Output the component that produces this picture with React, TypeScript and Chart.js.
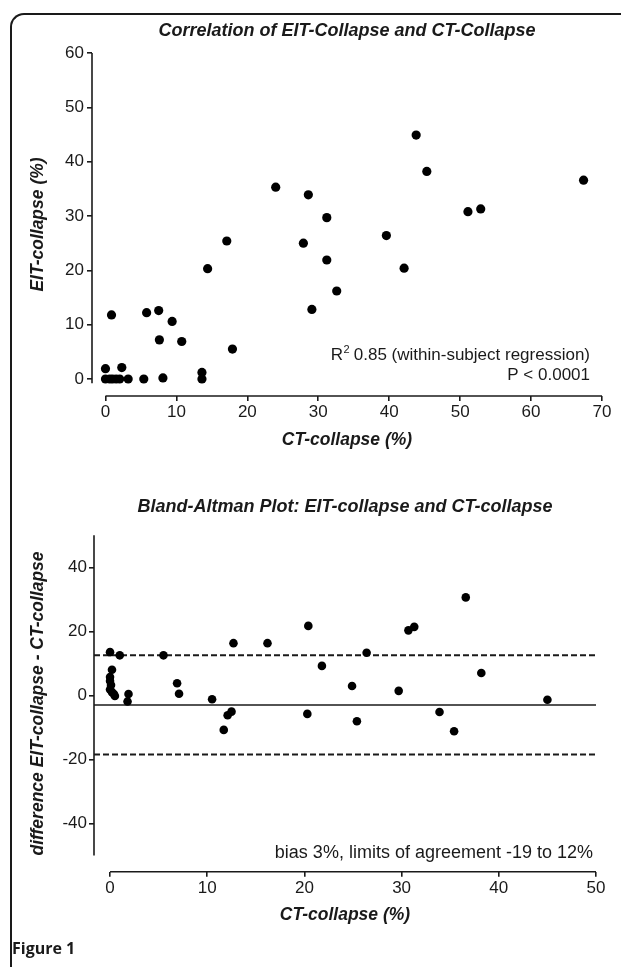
import React, { useEffect, useRef } from "react";
import { Chart, registerables } from "chart.js";

Chart.register(...registerables);

// ---- Data: top chart (correlation) ----
const ctCollapse = [0, 0, 0.6, 1.0, 1.5, 2.0, 2.3, 3.2, 0.85, 5.4, 5.8, 7.5, 7.6, 8.1, 9.4, 10.75, 13.6, 13.6, 14.4, 17.1, 17.9, 24.0, 27.9, 28.6, 29.1, 31.2, 31.2, 32.6, 39.6, 42.1, 43.8, 45.3, 51.1, 52.9, 67.4];
const eitCollapse = [1.9, 0, 0, 0, 0, 0, 2.1, 0, 11.8, 0, 12.2, 12.6, 7.2, 0.2, 10.6, 6.9, 1.2, 0, 20.3, 25.4, 5.5, 35.3, 25.0, 33.9, 12.8, 29.7, 21.9, 16.2, 26.4, 20.4, 44.9, 38.2, 30.8, 31.3, 36.6];
const topXTicks = [0, 10, 20, 30, 40, 50, 60, 70];
const topYTicks = [0, 10, 20, 30, 40, 50, 60];

// ---- Data: bottom chart (Bland-Altman) ----
const baCT = [0, 1.0, 0.2, 0.0, 0.0, 0.1, 0.0, 0.2, 0.4, 0.5, 1.9, 1.8, 5.5, 6.9, 7.1, 10.5, 12.7, 12.1, 12.5, 11.7, 16.2, 20.4, 20.3, 21.8, 26.4, 24.9, 25.4, 29.7, 30.7, 31.3, 36.6, 38.2, 33.9, 35.4, 45.0];
const baDiff = [13.5, 12.5, 8.0, 5.7, 4.5, 3.2, 1.8, 1.0, 0.4, -0.2, 0.4, -1.9, 12.5, 3.8, 0.5, -1.2, 16.3, -6.2, -5.1, -10.8, 16.3, 21.7, -5.8, 9.2, 13.3, 2.9, -8.1, 1.4, 20.3, 21.4, 30.6, 7.0, -5.2, -11.2, -1.4];
const bottomXTicks = [0, 10, 20, 30, 40, 50];
const bottomYTicks = [-40, -20, 0, 20, 40];
const biasValue = -3;
const upperLimit = 12.5;
const lowerLimit = -18.5;

const FAMILY = "'Liberation Sans', Arial, Helvetica, sans-serif";
const INK = "#1a1a1a";

const pts = (xs: number[], ys: number[]) => xs.map((x, i) => ({ x, y: ys[i] }));

const decorPlugin = {
  id: "decor",
  beforeDatasetsDraw(chart: any, _args: any, opts: any) {
    const { ctx, chartArea, scales } = chart;
    const xs = scales.x;
    const ys = scales.y;
    ctx.save();
    ctx.strokeStyle = INK;
    ctx.lineWidth = 1.6;
    ctx.lineCap = "butt";
    ctx.beginPath();
    ctx.moveTo(chartArea.left, ys.getPixelForValue(opts.yFrom));
    ctx.lineTo(chartArea.left, ys.getPixelForValue(opts.yTo));
    ctx.stroke();
    ctx.beginPath();
    ctx.moveTo(xs.getPixelForValue(opts.xFrom), chartArea.bottom);
    ctx.lineTo(xs.getPixelForValue(opts.xTo), chartArea.bottom);
    ctx.stroke();
    ctx.restore();
  },
  afterDraw(chart: any, _args: any, opts: any) {
    const { ctx, chartArea } = chart;
    ctx.save();
    ctx.fillStyle = INK;
    ctx.textAlign = "center";
    ctx.textBaseline = "middle";
    ctx.font = `italic bold 18px ${FAMILY}`;
    ctx.fillText(opts.title, (chartArea.left + chartArea.right) / 2, chartArea.top + opts.titleDy);
    (opts.notes || []).forEach((n: any) => {
      ctx.textBaseline = "alphabetic";
      ctx.textAlign = "left";
      const size = n.size;
      ctx.font = `${size}px ${FAMILY}`;
      const mainW = ctx.measureText(n.text).width;
      let supW = 0;
      let preW = 0;
      if (n.pre) {
        preW = ctx.measureText(n.pre).width;
        ctx.font = `${Math.round(size * 0.62)}px ${FAMILY}`;
        supW = ctx.measureText(n.sup).width;
      }
      const total = preW + supW + mainW;
      let x = chartArea.right + n.dx - total;
      const y = chartArea.bottom + n.dy;
      if (n.pre) {
        ctx.font = `${size}px ${FAMILY}`;
        ctx.fillText(n.pre, x, y);
        x += preW;
        ctx.font = `${Math.round(size * 0.62)}px ${FAMILY}`;
        ctx.fillText(n.sup, x + 0.5, y - size * 0.42);
        x += supW;
      }
      ctx.font = `${size}px ${FAMILY}`;
      ctx.fillText(n.text, x, y);
    });
    ctx.restore();
  },
};

const tickGrid = { drawOnChartArea: false, drawTicks: true, tickLength: 5, color: INK, lineWidth: 1.6 };
const tickFont = { family: FAMILY, size: 17 };
const axisTitleFont = { family: FAMILY, size: 17.5, weight: "bold" as const, style: "italic" as const };

function topConfig(): any {
  return {
    type: "scatter",
    data: {
      datasets: [
        {
          data: pts(ctCollapse, eitCollapse),
          backgroundColor: "#000",
          borderWidth: 0,
          pointRadius: 4.6,
          pointHoverRadius: 4.6,
        },
      ],
    },
    options: {
      animation: false,
      responsive: false,
      devicePixelRatio: 1,
      events: [],
      layout: { padding: { top: 53, left: 0, right: 19, bottom: 0 } },
      scales: {
        x: {
          type: "linear",
          min: -1.9,
          max: 70,
          afterBuildTicks: (s: any) => {
            s.ticks = topXTicks.map((v) => ({ value: v }));
          },
          afterFit: (s: any) => {
            s.height = 64;
          },
          grid: tickGrid,
          border: { display: false },
          ticks: { color: INK, font: tickFont, padding: 1, maxRotation: 0, autoSkip: false },
          title: { display: true, text: "CT-collapse (%)", color: INK, font: axisTitleFont, padding: { top: 0, bottom: 9.5 } },
        },
        y: {
          type: "linear",
          min: -3.13,
          max: 60,
          afterBuildTicks: (s: any) => {
            s.ticks = topYTicks.map((v) => ({ value: v }));
          },
          afterFit: (s: any) => {
            s.width = 92;
          },
          grid: tickGrid,
          border: { display: false },
          ticks: { color: INK, font: tickFont, padding: 3, autoSkip: false },
          title: { display: true, text: "EIT-collapse (%)", color: INK, font: axisTitleFont, padding: { top: 27.5, bottom: 0 } },
        },
      },
      plugins: {
        legend: { display: false },
        tooltip: { enabled: false },
        decor: {
          yFrom: 60,
          yTo: -0.8,
          xFrom: 0,
          xTo: 70,
          title: "Correlation of EIT-Collapse and CT-Collapse",
          titleDy: -22,
          notes: [
            { pre: "R", sup: "2", text: " 0.85 (within-subject regression)", size: 17, dx: -12, dy: -36 },
            { text: "P < 0.0001", size: 17, dx: -12, dy: -16 },
          ],
        },
      },
    },
    plugins: [decorPlugin],
  };
}

function bottomConfig(): any {
  const xMin = -1.65;
  const line = (y: number, dash: number[], width: number) => ({
    type: "line",
    data: [
      { x: xMin, y },
      { x: 50, y },
    ],
    borderColor: INK,
    borderWidth: width,
    borderDash: dash,
    pointRadius: 0,
    showLine: true,
    fill: false,
    order: 2,
  });
  return {
    type: "scatter",
    data: {
      datasets: [
        line(upperLimit, [6, 3], 2),
        line(biasValue, [], 1.6),
        line(lowerLimit, [6, 3], 2),
        {
          data: pts(baCT, baDiff),
          backgroundColor: "#000",
          borderWidth: 0,
          pointRadius: 4.3,
          pointHoverRadius: 4.3,
          order: 1,
        },
      ],
    },
    options: {
      animation: false,
      responsive: false,
      devicePixelRatio: 1,
      events: [],
      layout: { padding: { top: 75.3, left: 0, right: 25, bottom: 0 } },
      scales: {
        x: {
          type: "linear",
          min: xMin,
          max: 50,
          afterBuildTicks: (s: any) => {
            s.ticks = bottomXTicks.map((v) => ({ value: v }));
          },
          afterFit: (s: any) => {
            s.height = 95.3;
          },
          grid: tickGrid,
          border: { display: false },
          ticks: { color: INK, font: tickFont, padding: 1, maxRotation: 0, autoSkip: false },
          title: { display: true, text: "CT-collapse (%)", color: INK, font: axisTitleFont, padding: { top: 0, bottom: 41.5 } },
        },
        y: {
          type: "linear",
          min: -55.1,
          max: 50,
          afterBuildTicks: (s: any) => {
            s.ticks = bottomYTicks.map((v) => ({ value: v }));
          },
          afterFit: (s: any) => {
            s.width = 94;
          },
          grid: tickGrid,
          border: { display: false },
          ticks: { color: INK, font: tickFont, padding: 2, autoSkip: false },
          title: {
            display: true,
            text: "difference EIT-collapse - CT-collapse",
            color: INK,
            font: axisTitleFont,
            padding: { top: 27.5, bottom: 0 },
          },
        },
      },
      plugins: {
        legend: { display: false },
        tooltip: { enabled: false },
        decor: {
          yFrom: 50,
          yTo: -50,
          xFrom: 0,
          xTo: 50,
          title: "Bland-Altman Plot: EIT-collapse and CT-collapse",
          titleDy: -28,
          notes: [{ text: "bias 3%, limits of agreement -19 to 12%", size: 18, dx: -3, dy: -14 }],
        },
      },
    },
    plugins: [decorPlugin],
  };
}

export default function App() {
  const topRef = useRef<HTMLCanvasElement>(null);
  const botRef = useRef<HTMLCanvasElement>(null);

  useEffect(() => {
    const c1 = new Chart(topRef.current as HTMLCanvasElement, topConfig());
    const c2 = new Chart(botRef.current as HTMLCanvasElement, bottomConfig());
    return () => {
      c1.destroy();
      c2.destroy();
    };
  }, []);

  return (
    <div style={{ position: "absolute", left: 0, top: 0, width: 621, height: 967, overflow: "hidden", background: "#fff" }}>
      <div
        style={{
          position: "absolute",
          left: 10,
          top: 13,
          width: 700,
          height: 1100,
          borderLeft: `2px solid ${INK}`,
          borderTop: `2px solid ${INK}`,
          borderTopLeftRadius: 14,
          boxSizing: "border-box",
        }}
      />
      <canvas ref={topRef} width={621} height={460} style={{ position: "absolute", left: 0, top: 0, display: "block" }} />
      <canvas ref={botRef} width={621} height={507} style={{ position: "absolute", left: 0, top: 460, display: "block" }} />
      <div
        style={{
          position: "absolute",
          left: 12,
          top: 937,
          font: `bold 16px 'Open Sans', 'Noto Sans', sans-serif`,
          color: INK,
          lineHeight: "22px",
        }}
      >
        Figure 1
      </div>
    </div>
  );
}
